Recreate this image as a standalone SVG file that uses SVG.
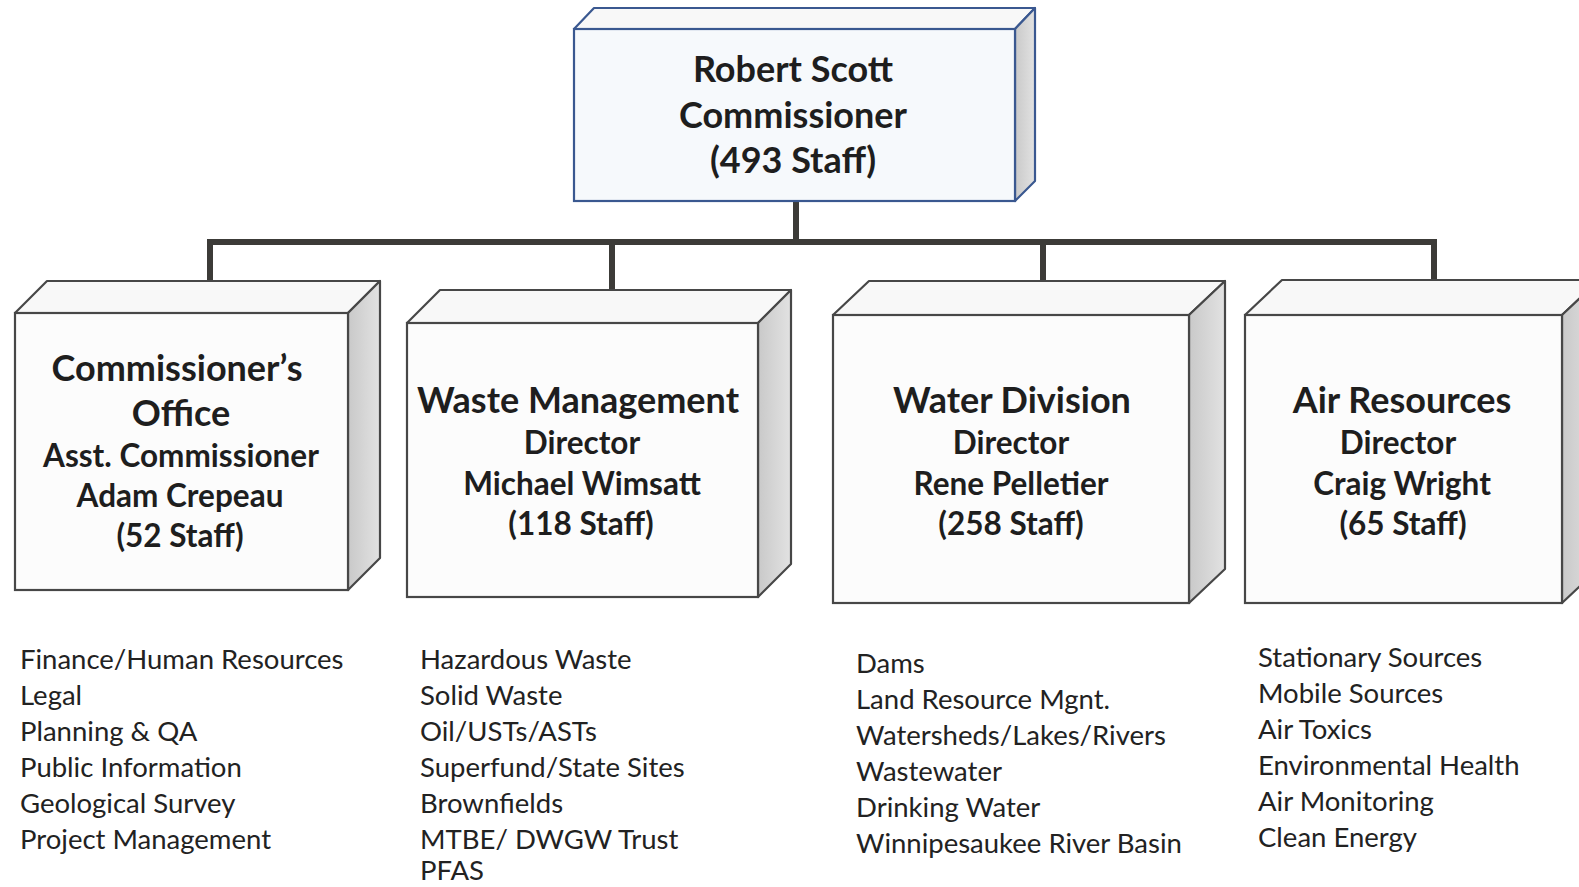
<svg xmlns="http://www.w3.org/2000/svg" width="1579" height="887" viewBox="0 0 1579 887">
<defs>
<linearGradient id="side" x1="0" y1="0" x2="1" y2="0">
<stop offset="0" stop-color="#c9c9c9"/>
<stop offset="1" stop-color="#e2e2e2"/>
</linearGradient>
<style>
.front{fill:#fcfcfc;stroke:#474747;stroke-width:2.2}
.topf{fill:#f8f8f8;stroke:#474747;stroke-width:2.2;stroke-linejoin:round}
.sidef{fill:url(#side);stroke:#474747;stroke-width:2.2;stroke-linejoin:round}
.blue .front,.blue .topf,.blue .sidef{stroke:#3a5890}
.blue .front{fill:#f6f9fc}
.conn{fill:none;stroke:#3c3b38;stroke-width:6}
.t{font-family:Lato,"Liberation Sans",sans-serif;fill:#1e1e1e;text-anchor:middle;font-weight:bold}
.big{font-size:36px}
.mid{font-size:31.5px}
.list{font-family:Lato,"Liberation Sans",sans-serif;fill:#222;font-size:27.5px}
</style>
</defs>
<rect width="1579" height="887" fill="#ffffff"/>
<g id="connectors">
<path class="conn" d="M796 201 V242 M210 242 H1434 M210 239 V282 M612 242 V291 M1043 242 V282 M1434 239 V281"/>
</g>
<g id="commissioner" class="blue">
<polygon class="topf" points="574,29 594,8 1035,8 1015,29"/>
<polygon class="sidef" points="1015,29 1035,8 1035,181 1015,201"/>
<rect class="front" x="574" y="29" width="441" height="172"/>
<text class="t big" x="793" y="82">Robert Scott</text>
<text class="t big" x="793" y="128">Commissioner</text>
<text class="t big" x="793" y="173">(493 Staff)</text>
</g>
<g id="commissioners-office">
<polygon class="topf" points="15,313 47,281 380,281 348,313"/>
<polygon class="sidef" points="348,313 380,281 380,558 348,590"/>
<rect class="front" x="15" y="313" width="333" height="277"/>
<text class="t big" x="177" y="381">Commissioner’s</text>
<text class="t big" x="181" y="426">Office</text>
<text class="t mid" x="181" y="467">Asst. Commissioner</text>
<text class="t mid" x="180" y="507">Adam Crepeau</text>
<text class="t mid" x="180" y="547">(52 Staff)</text>
</g>
<g id="waste-management">
<polygon class="topf" points="407,323 440,290 791,290 758,323"/>
<polygon class="sidef" points="758,323 791,290 791,564 758,597"/>
<rect class="front" x="407" y="323" width="351" height="274"/>
<text class="t big" x="578" y="413">Waste Management</text>
<text class="t mid" x="582" y="454">Director</text>
<text class="t mid" x="582" y="495">Michael Wimsatt</text>
<text class="t mid" x="581" y="535">(118 Staff)</text>
</g>
<g id="water-division">
<polygon class="topf" points="833,315 869,281 1225,281 1189,315"/>
<polygon class="sidef" points="1189,315 1225,281 1225,569 1189,603"/>
<rect class="front" x="833" y="315" width="356" height="288"/>
<text class="t big" x="1012" y="413">Water Division</text>
<text class="t mid" x="1011" y="454">Director</text>
<text class="t mid" x="1011" y="495">Rene Pelletier</text>
<text class="t mid" x="1011" y="535">(258 Staff)</text>
</g>
<g id="air-resources">
<polygon class="topf" points="1245,315 1282,280 1599,280 1562,315"/>
<polygon class="sidef" points="1562,315 1599,280 1599,568 1562,603"/>
<rect class="front" x="1245" y="315" width="317" height="288"/>
<text class="t big" x="1402" y="413">Air Resources</text>
<text class="t mid" x="1398" y="454">Director</text>
<text class="t mid" x="1402" y="495">Craig Wright</text>
<text class="t mid" x="1403" y="535">(65 Staff)</text>
</g>
<g id="list-commissioner" class="list">
<text x="20" y="669">Finance/Human Resources</text>
<text x="20" y="705">Legal</text>
<text x="20" y="741">Planning &amp; QA</text>
<text x="20" y="777">Public Information</text>
<text x="20" y="813">Geological Survey</text>
<text x="20" y="849">Project Management</text>
</g>
<g id="list-waste" class="list">
<text x="420" y="669">Hazardous Waste</text>
<text x="420" y="705">Solid Waste</text>
<text x="420" y="741">Oil/USTs/ASTs</text>
<text x="420" y="777">Superfund/State Sites</text>
<text x="420" y="813">Brownfields</text>
<text x="420" y="849">MTBE/ DWGW Trust</text>
<text x="420" y="880">PFAS</text>
</g>
<g id="list-water" class="list">
<text x="856" y="673">Dams</text>
<text x="856" y="709">Land Resource Mgnt.</text>
<text x="856" y="745">Watersheds/Lakes/Rivers</text>
<text x="856" y="781">Wastewater</text>
<text x="856" y="817">Drinking Water</text>
<text x="856" y="853">Winnipesaukee River Basin</text>
</g>
<g id="list-air" class="list">
<text x="1258" y="667">Stationary Sources</text>
<text x="1258" y="703">Mobile Sources</text>
<text x="1258" y="739">Air Toxics</text>
<text x="1258" y="775">Environmental Health</text>
<text x="1258" y="811">Air Monitoring</text>
<text x="1258" y="847">Clean Energy</text>
</g>
</svg>
